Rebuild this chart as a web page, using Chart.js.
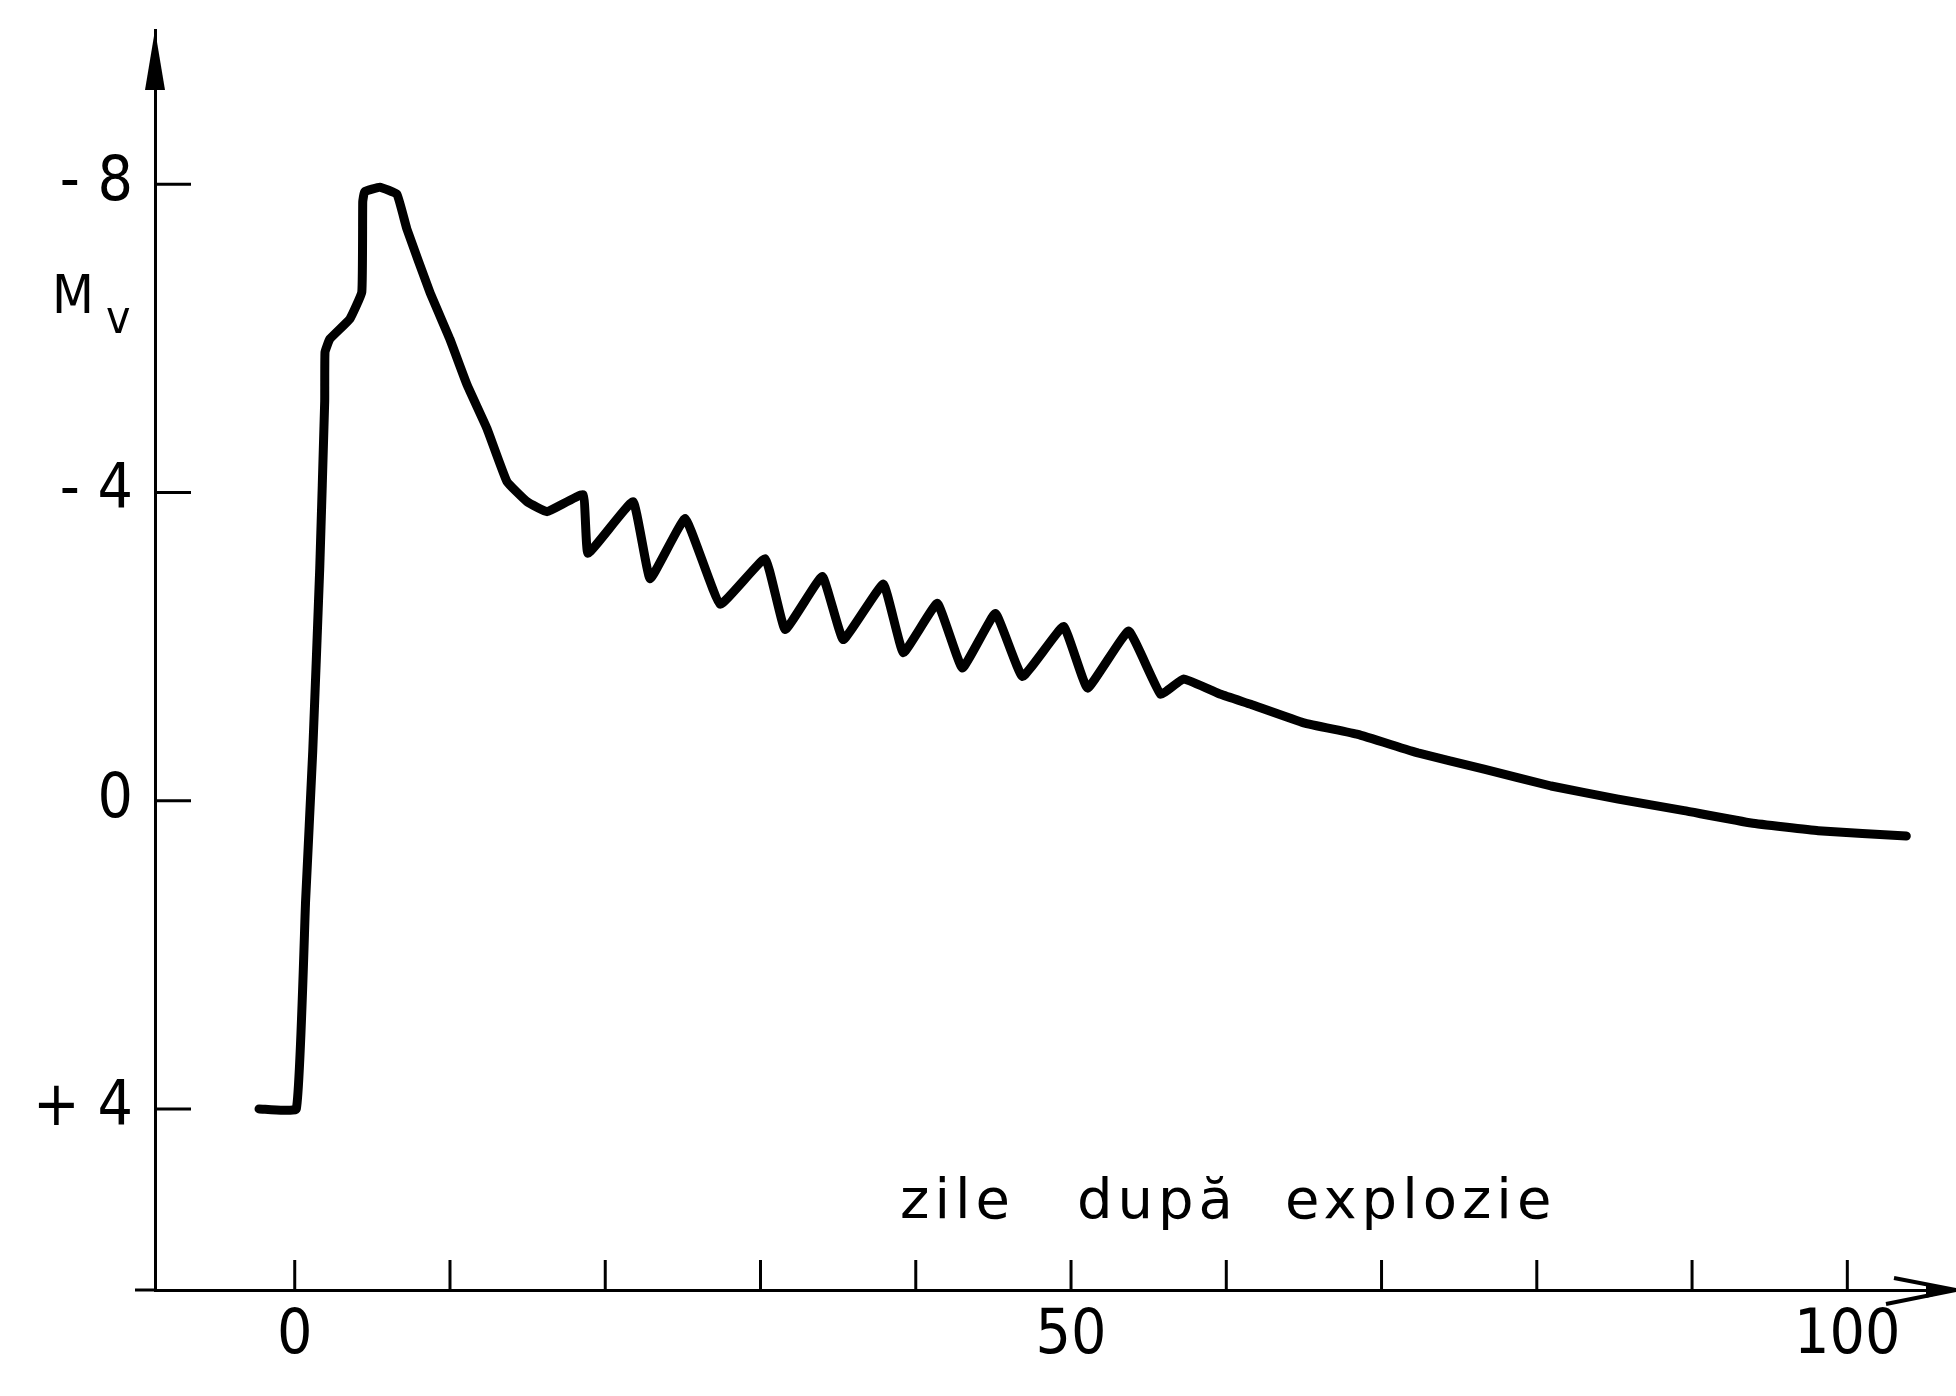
<!DOCTYPE html>
<html>
<head>
<meta charset="utf-8">
<script src="https://cdn.jsdelivr.net/npm/chart.js@4.4.1/dist/chart.umd.min.js"></script>
<style>
    html, body { margin: 0; padding: 0; background: #fff; }
    #wrap { width: 1956px; height: 1396px; position: relative; }
</style>
</head>
<body>
<div id="wrap"><canvas id="lightCurve"></canvas></div>
<script>
// light curve: days after explosion vs M_v
var days = [-2.3, 0.1, 0.7, 1.16, 1.61, 1.93, 1.95, 2.26, 3.55, 4.32, 4.38, 4.5, 5.48, 6.58, 7.22, 8.7, 9.99,
    11.09, 12.38, 13.67, 14.96, 16.25, 18.57, 18.89, 21.79, 22.89, 25.15, 27.4, 30.3, 31.59, 33.98, 35.33,
    37.91, 39.2, 41.39, 43.0, 45.13, 46.87, 49.52, 51.06, 53.71, 55.77, 57.25, 59.64, 61.57, 64.99, 68.47,
    72.34, 76.6, 80.92, 85.24, 89.49, 93.81, 98.13, 103.8];
var magV = [4.0, 4.0, 1.3, -0.64, -3.01, -5.18, -5.82, -5.99, -6.25, -6.6, -7.77, -7.9, -7.96, -7.87, -7.42, -6.6, -5.99,
    -5.4, -4.83, -4.14, -3.88, -3.75, -3.97, -3.21, -3.88, -2.88, -3.66, -2.55, -3.14, -2.22, -2.91, -2.09,
    -2.81, -1.92, -2.56, -1.72, -2.43, -1.61, -2.26, -1.46, -2.2, -1.38, -1.58, -1.38, -1.25, -1.01, -0.86,
    -0.62, -0.41, -0.19, -0.02, 0.13, 0.29, 0.39, 0.46];

var yTickValues = [-8, -4, 0, 4];
var yTickLabels = ['- 8', '- 4', '0', '+ 4'];
var xTickValues = [0, 10, 20, 30, 40, 50, 60, 70, 80, 90, 100];
var xLabelled = [0, 50, 100];
var xTitleWords = ['zile', 'după', 'explozie'];
var yTitle = 'M';
var yTitleSub = 'v';

var labelFont = '"DejaVu Sans Condensed", "Liberation Sans Narrow", "DejaVu Sans", sans-serif';

// ticks pointing into the plot, arrows and axis titles
var handAxes = {
    id: 'handAxes',
    afterDraw: function(chart) {
        var ctx = chart.ctx;
        var xs = chart.scales.x;
        var ys = chart.scales.y;
        var area = chart.chartArea;
        ctx.save();
        ctx.strokeStyle = '#000';
        ctx.fillStyle = '#000';
        ctx.lineWidth = 3;

        yTickValues.forEach(function(v) {
            var py = ys.getPixelForValue(v);
            ctx.beginPath();
            ctx.moveTo(area.left, py);
            ctx.lineTo(area.left + 36, py);
            ctx.stroke();
        });
        xTickValues.forEach(function(v) {
            var px = xs.getPixelForValue(v);
            ctx.beginPath();
            ctx.moveTo(px, area.bottom);
            ctx.lineTo(px, area.bottom - 30);
            ctx.stroke();
        });

        // x axis runs a little past the y axis
        ctx.beginPath();
        ctx.moveTo(area.left - 20, area.bottom);
        ctx.lineTo(area.left, area.bottom);
        ctx.stroke();

        // arrow on y axis
        ctx.beginPath();
        ctx.moveTo(area.left, area.top);
        ctx.lineTo(area.left - 10, area.top + 60);
        ctx.lineTo(area.left + 10, area.top + 60);
        ctx.closePath();
        ctx.fill();

        // arrow on x axis
        ctx.lineWidth = 4;
        ctx.beginPath();
        ctx.moveTo(area.right - 62, area.bottom - 12);
        ctx.lineTo(area.right, area.bottom);
        ctx.lineTo(area.right - 70, area.bottom + 14);
        ctx.stroke();
        ctx.beginPath();
        ctx.moveTo(area.right, area.bottom);
        ctx.lineTo(area.right - 30, area.bottom - 7);
        ctx.lineTo(area.right - 30, area.bottom + 8);
        ctx.closePath();
        ctx.fill();

        // M_v
        ctx.textAlign = 'left';
        ctx.textBaseline = 'alphabetic';
        ctx.font = '54px ' + labelFont;
        ctx.fillText(yTitle, 52, 313);
        ctx.font = '46px ' + labelFont;
        ctx.fillText(yTitleSub, 106, 333);

        // x axis title
        ctx.font = '56px "DejaVu Sans", sans-serif';
        ctx.letterSpacing = '5px';
        var wordX = [900, 1077, 1285];
        xTitleWords.forEach(function(w, i) {
            ctx.fillText(w, wordX[i], 1218);
        });
        ctx.restore();
    }
};

var ctx = document.getElementById('lightCurve');
var chart = new Chart(ctx, {
    type: 'line',
    data: {
        datasets: [{
            data: days.map(function(d, i) { return { x: d, y: magV[i] }; }),
            borderColor: '#000',
            borderWidth: 9,
            pointRadius: 0,
            tension: 0.1,
            fill: false,
            borderJoinStyle: 'round',
            borderCapStyle: 'round'
        }]
    },
    options: {
        responsive: true,
        maintainAspectRatio: false,
        animation: false,
        devicePixelRatio: 1,
        layout: { padding: { top: 30, left: 0, right: 0, bottom: 0 } },
        plugins: {
            legend: { display: false },
            tooltip: { enabled: false }
        },
        scales: {
            x: {
                type: 'linear',
                min: -9,
                max: 107,
                afterBuildTicks: function(scale) {
                    scale.ticks = xTickValues.map(function(v) { return { value: v }; });
                },
                afterFit: function(scale) {
                    scale.height = 106;
                    scale.paddingLeft = 0;
                    scale.paddingRight = 0;
                },
                grid: { display: false, drawTicks: false },
                border: { display: true, color: '#000', width: 3 },
                ticks: {
                    autoSkip: false,
                    maxRotation: 0,
                    padding: 10,
                    color: '#000',
                    font: { family: labelFont, size: 62 },
                    callback: function(v) { return xLabelled.indexOf(v) >= 0 ? String(v) : ''; }
                }
            },
            y: {
                type: 'linear',
                reverse: true,
                min: -10,
                max: 6.35,
                afterBuildTicks: function(scale) {
                    scale.ticks = yTickValues.map(function(v) { return { value: v }; });
                },
                afterFit: function(scale) {
                    scale.width = 155;
                    scale.paddingTop = 0;
                    scale.paddingBottom = 0;
                },
                grid: { display: false, drawTicks: false },
                border: { display: true, color: '#000', width: 3 },
                ticks: {
                    padding: 22,
                    color: '#000',
                    font: { family: labelFont, size: 62 },
                    callback: function(v) {
                        var i = yTickValues.indexOf(v);
                        return i >= 0 ? yTickLabels[i] : '';
                    }
                }
            }
        }
    },
    plugins: [handAxes]
});
</script>
</body>
</html>
